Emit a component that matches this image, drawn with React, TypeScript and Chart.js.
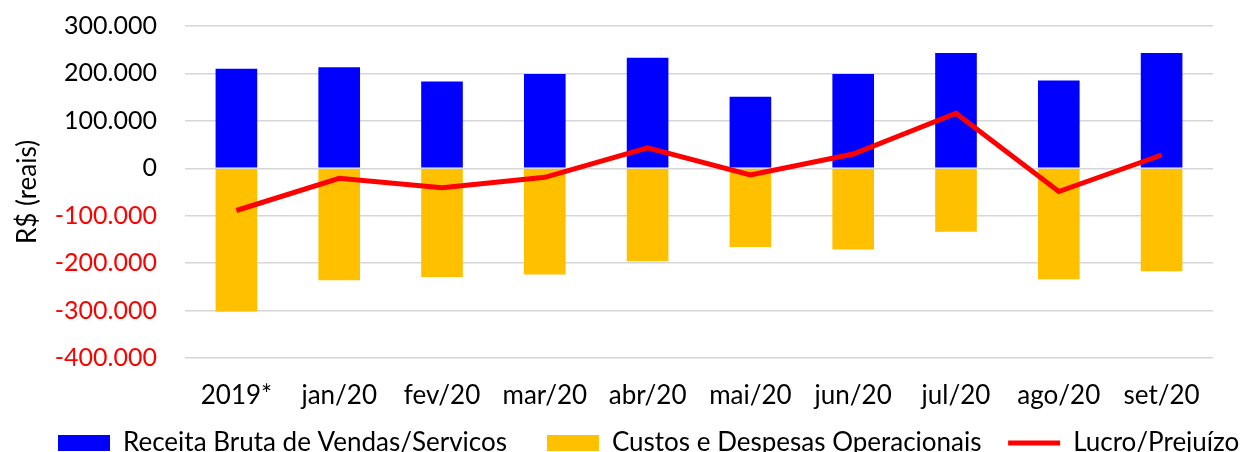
import React, { useEffect, useRef } from 'react';
import { Chart, registerables } from 'chart.js';

Chart.register(...registerables);

const categories = ['2019*', 'jan/20', 'fev/20', 'mar/20', 'abr/20', 'mai/20', 'jun/20', 'jul/20', 'ago/20', 'set/20'];
const receita = [210000, 213000, 183000, 199000, 233000, 151000, 199000, 243000, 185000, 243000];
const custos = [-302000, -236000, -229000, -224000, -196000, -166000, -171000, -134000, -234000, -217000];
const lucro = [-89000, -21000, -41000, -19000, 43000, -14000, 30000, 116000, -49000, 28000];
const seriesNames = ['Receita Bruta de Vendas/Servicos', 'Custos e Despesas Operacionais', 'Lucro/Prejuízo'];
const yMin = -400000;
const yMax = 300000;
const yStep = 100000;

const FONT = 'Lato';
// extra trailing spacing after each legend entry (invisible, widens gaps like the original)
const legendTrail = ['   ', ' ', ''];

function fmt(v: number): string {
  const s = Math.abs(Math.round(v)).toString().replace(/\B(?=(\d{3})+(?!\d))/g, '.');
  return (v < 0 ? '-' : '') + s;
}

export default function App() {
  const ref = useRef<HTMLCanvasElement | null>(null);

  useEffect(() => {
    document.body.style.margin = '0';
    const canvas = ref.current;
    if (!canvas) return;
    const defaultGen = Chart.defaults.plugins.legend.labels.generateLabels;
    const chart = new Chart(canvas, {
      type: 'bar',
      data: {
        labels: categories,
        datasets: [
          {
            type: 'bar',
            label: seriesNames[0],
            data: receita,
            backgroundColor: '#0000ff',
            borderWidth: 0,
            pointStyle: 'rect',
            order: 2,
          } as any,
          {
            type: 'bar',
            label: seriesNames[1],
            data: custos,
            backgroundColor: '#ffc000',
            borderWidth: 0,
            pointStyle: 'rect',
            order: 3,
          } as any,
          {
            type: 'line',
            label: seriesNames[2],
            data: lucro,
            borderColor: '#ff0000',
            backgroundColor: '#ff0000',
            borderWidth: 5,
            pointRadius: 0,
            pointHoverRadius: 0,
            tension: 0,
            pointStyle: 'line',
            order: 1,
          } as any,
        ],
      },
      options: {
        responsive: false,
        animation: false,
        layout: { autoPadding: false, padding: { top: 26, left: 38, right: -120, bottom: 0 } } as any,
        datasets: {
          bar: { barPercentage: 0.405, categoryPercentage: 1 },
        } as any,
        plugins: {
          tooltip: { enabled: false },
          legend: {
            position: 'bottom',
            align: 'start',
            labels: {
              usePointStyle: true,
              pointStyleWidth: 52,
              boxHeight: 16,
              padding: 20,
              color: '#000',
              font: { family: FONT, size: 26 },
              sort: (a: any, b: any) => a.datasetIndex - b.datasetIndex,
              generateLabels: (ch: any) => {
                const items = (defaultGen as any)(ch);
                return items.map((it: any) => ({ ...it, text: it.text + (legendTrail[it.datasetIndex] || '') }));
              },
            } as any,
          },
        },
        scales: {
          x: {
            stacked: true,
            grid: { display: false, drawTicks: false },
            border: { display: false },
            ticks: { color: '#000', font: { family: FONT, size: 26 }, padding: 22 },
            afterFit: (scale: any) => {
              scale.height = 52;
            },
          },
          y: {
            stacked: false,
            min: yMin,
            max: yMax,
            border: { display: false },
            grid: { color: '#d6d6d6', lineWidth: 1.5, drawTicks: false },
            ticks: {
              stepSize: yStep,
              padding: 28,
              font: { family: FONT, size: 25 },
              color: (ctx: any) => (ctx.tick && ctx.tick.value < 0 ? '#ff0000' : '#000000'),
              callback: (v: any) => fmt(Number(v)),
            },
            title: {
              display: true,
              text: 'R$ (reais)',
              color: '#000',
              font: { family: FONT, size: 26 },
              padding: { top: -26, bottom: 0 },
            },
            afterFit: (scale: any) => {
              scale.width = 147;
              scale.paddingTop = 0;
              scale.paddingBottom = 0;
            },
          },
          yRight: {
            type: 'linear',
            position: 'right',
            display: true,
            grid: { display: false, drawTicks: false },
            border: { display: false },
            ticks: { display: false },
            afterFit: (scale: any) => {
              scale.width = 151;
            },
          },
        },
      },
    });
    return () => chart.destroy();
  }, []);

  return (
    <div style={{ width: 1244, height: 452, overflow: 'hidden' }}>
      <canvas ref={ref} width={1244} height={466} style={{ display: 'block' }} />
    </div>
  );
}
